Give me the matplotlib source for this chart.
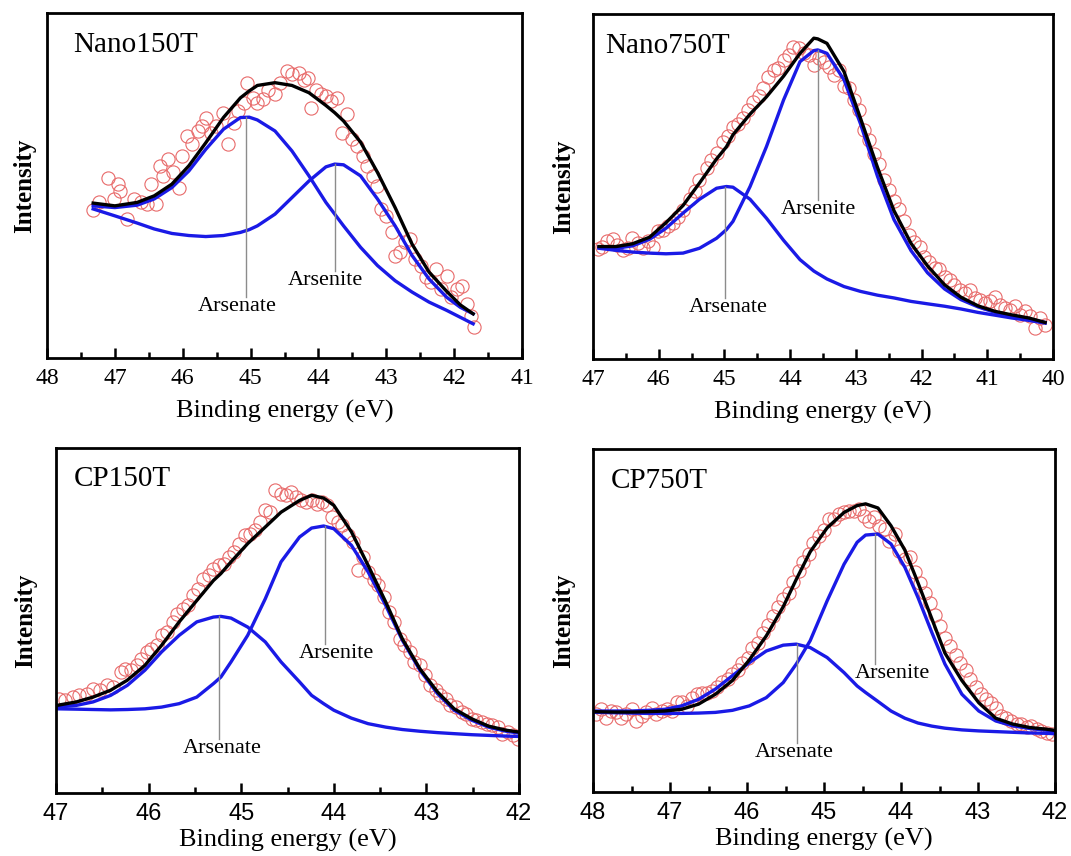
import matplotlib
matplotlib.use("Agg")
import matplotlib.pyplot as plt
from matplotlib.ticker import MultipleLocator

plt.rcParams['font.family'] = ['Liberation Serif', 'DejaVu Serif']

# ---- Nano150T ----
p1_x = [47.32, 47.00, 46.67, 46.42, 46.16, 45.91, 45.66, 45.40, 45.15, 45.02, 44.90, 44.64, 44.39,
        44.14, 43.89, 43.76, 43.63, 43.38, 43.13, 42.87, 42.62, 42.37, 42.11, 41.91, 41.72]
p1_fit = [44.9, 44.1, 45.1, 47.0, 50.4, 55.7, 62.4, 69.7, 75.4, 77.4, 79.0, 79.8, 79.0,
          76.9, 73.2, 71.1, 68.7, 62.6, 53.8, 43.6, 33.0, 24.9, 19.3, 15.4, 12.8]
p1_as5 = [44.1, 43.6, 44.3, 46.1, 49.4, 54.2, 60.5, 66.3, 69.7, 69.8, 69.0, 65.8, 60.0,
          52.8, 45.1, 41.7, 38.3, 32.1, 26.8, 22.4, 19.1, 16.2, 13.8, 11.8, 9.9]
p1_as3 = [43.2, 41.2, 39.1, 37.4, 36.1, 35.5, 35.2, 35.5, 36.4, 37.2, 38.3, 41.7, 46.5,
          51.3, 55.4, 56.2, 56.0, 52.8, 46.1, 38.3, 29.7, 22.9, 17.6, 14.7, 12.8]
p1_dx = [47.32, 47.23, 47.10, 47.02, 46.95, 46.92, 46.82, 46.72, 46.62, 46.52, 46.47, 46.39, 46.34,
         46.29, 46.21, 46.14, 46.06, 46.01, 45.94, 45.86, 45.78, 45.71, 45.66, 45.58, 45.51, 45.40,
         45.33, 45.25, 45.18, 45.10, 45.05, 44.97, 44.90, 44.82, 44.75, 44.64, 44.57, 44.47, 44.39,
         44.29, 44.21, 44.16, 44.11, 44.04, 43.96, 43.89, 43.81, 43.73, 43.66, 43.58, 43.51, 43.43,
         43.35, 43.28, 43.20, 43.13, 43.08, 43.00, 42.92, 42.87, 42.80, 42.72, 42.65, 42.57, 42.49,
         42.42, 42.34, 42.27, 42.19, 42.11, 42.04, 41.96, 41.89, 41.81, 41.75, 41.71]
p1_dy = [43.0, 45.1, 52.3, 46.0, 50.4, 48.5, 40.3, 46.0, 45.1, 44.6, 50.4, 44.6, 55.7,
         52.8, 57.6, 53.8, 49.4, 58.6, 64.4, 61.9, 65.8, 67.2, 69.7, 65.3, 67.2, 71.1,
         61.9, 68.2, 71.6, 74.0, 79.8, 75.4, 74.0, 75.0, 77.8, 76.4, 79.8, 83.1, 82.2,
         82.7, 80.7, 81.2, 72.5, 77.8, 76.4, 75.9, 74.5, 75.4, 65.3, 70.6, 63.4, 61.5,
         58.6, 55.7, 52.8, 49.9, 43.2, 41.2, 36.4, 29.7, 30.6, 33.5, 34.5, 28.7, 26.8,
         23.4, 22.0, 25.8, 20.0, 23.9, 17.6, 20.0, 21.0, 15.7, 12.3, 9.0]

# ---- Nano750T ----
p2_x = [46.91, 46.65, 46.40, 46.14, 45.89, 45.63, 45.38, 45.12, 44.97, 44.87, 44.61, 44.36, 44.10,
        43.85, 43.64, 43.58, 43.44, 43.18, 42.93, 42.67, 42.42, 42.16, 41.91, 41.65, 41.40, 41.14,
        40.88, 40.63, 40.37, 40.12]
p2_fit = [32.6, 32.6, 33.4, 35.3, 39.5, 44.5, 51.0, 58.0, 61.5, 65.0, 71.0, 76.0, 82.0,
          88.6, 93.0, 92.8, 91.5, 83.3, 69.8, 55.5, 43.0, 33.5, 27.0, 21.5, 17.9, 15.4,
          13.8, 12.8, 11.9, 10.6]
p2_as5 = [32.4, 32.1, 32.8, 34.7, 37.9, 42.3, 46.3, 49.5, 50.0, 49.8, 46.3, 40.8, 34.4,
          28.8, 25.5, 24.8, 23.2, 21.0, 19.6, 18.5, 17.7, 16.7, 16.0, 15.3, 14.5, 13.5,
          12.7, 11.9, 11.2, 10.4]
p2_as3 = [32.1, 31.5, 31.0, 30.7, 30.5, 30.7, 32.1, 35.0, 37.5, 39.9, 50.0, 61.6, 75.1,
          86.2, 89.4, 89.6, 88.6, 80.9, 68.2, 52.9, 40.4, 31.4, 25.0, 20.3, 17.2, 15.1,
          13.5, 12.5, 11.6, 10.6]
p2_dx = [46.93, 46.86, 46.78, 46.70, 46.63, 46.55, 46.47, 46.40, 46.32, 46.24, 46.17, 46.09, 46.01,
         45.94, 45.86, 45.79, 45.71, 45.63, 45.53, 45.45, 45.38, 45.27, 45.20, 45.12, 45.02, 44.94,
         44.87, 44.79, 44.71, 44.64, 44.56, 44.48, 44.41, 44.33, 44.25, 44.18, 44.10, 44.02, 43.95,
         43.87, 43.79, 43.72, 43.64, 43.56, 43.49, 43.41, 43.33, 43.26, 43.18, 43.11, 43.03, 42.95,
         42.88, 42.80, 42.72, 42.65, 42.57, 42.49, 42.42, 42.34, 42.26, 42.19, 42.11, 42.03, 41.96,
         41.88, 41.80, 41.73, 41.65, 41.57, 41.50, 41.42, 41.34, 41.27, 41.19, 41.11, 41.04, 40.96,
         40.88, 40.81, 40.73, 40.66, 40.58, 40.50, 40.43, 40.35, 40.27, 40.20, 40.12]
p2_dy = [31.9, 32.6, 34.1, 34.7, 33.1, 31.5, 32.1, 35.0, 33.6, 32.1, 34.1, 32.6, 37.0,
         37.5, 38.6, 39.5, 41.2, 43.2, 46.5, 48.6, 51.8, 55.5, 57.8, 59.8, 63.0, 64.6,
         67.2, 68.0, 70.0, 72.2, 74.5, 76.2, 78.6, 81.8, 83.7, 84.5, 86.8, 88.0, 90.5,
         90.1, 88.6, 88.1, 85.2, 87.2, 86.2, 84.7, 82.3, 83.8, 79.0, 78.5, 75.1, 72.2,
         66.5, 63.5, 59.5, 56.5, 51.8, 49.0, 45.8, 43.5, 40.0, 36.0, 34.0, 32.5, 29.5,
         28.0, 26.5, 26.0, 23.9, 23.0, 21.5, 20.1, 19.1, 20.1, 17.7, 17.2, 16.2, 16.7,
         18.1, 15.7, 14.8, 14.3, 15.3, 12.8, 13.8, 12.4, 9.0, 11.9, 9.9]

# ---- CP150T ----
p3_x = [46.99, 46.78, 46.60, 46.41, 46.23, 46.04, 45.86, 45.67, 45.48, 45.30, 45.22, 45.11, 44.93,
        44.74, 44.57, 44.37, 44.24, 44.11, 44.00, 43.81, 43.63, 43.44, 43.26, 43.07, 42.88, 42.70,
        42.51, 42.33, 42.14, 42.01]
p3_fit = [25.4, 26.4, 27.8, 29.8, 32.7, 37.0, 42.8, 49.6, 55.8, 61.6, 63.6, 67.0, 72.3,
          77.1, 81.4, 84.8, 86.3, 85.5, 83.4, 75.7, 66.0, 55.4, 44.7, 36.0, 29.3, 24.4,
          21.5, 19.4, 18.2, 17.7]
p3_as5 = [24.9, 25.4, 26.4, 28.3, 31.2, 35.6, 40.9, 45.7, 49.6, 51.0, 51.2, 50.7, 48.1,
          43.8, 38.0, 32.2, 28.3, 25.9, 24.0, 21.7, 20.1, 19.1, 18.4, 17.9, 17.5, 17.2,
          16.9, 16.7, 16.5, 16.4]
p3_as3 = [24.4, 24.3, 24.2, 24.1, 24.2, 24.4, 24.9, 25.9, 27.8, 31.7, 33.6, 38.0, 45.7,
          56.3, 67.0, 74.2, 76.8, 77.4, 76.6, 71.8, 64.1, 54.4, 44.3, 35.6, 28.8, 24.0,
          21.1, 19.1, 17.9, 17.4]
p3_dx = [46.97, 46.90, 46.82, 46.75, 46.67, 46.60, 46.52, 46.45, 46.38, 46.30, 46.25, 46.19, 46.13,
         46.08, 46.02, 45.97, 45.91, 45.86, 45.80, 45.74, 45.69, 45.63, 45.58, 45.52, 45.47, 45.41,
         45.35, 45.30, 45.24, 45.19, 45.13, 45.08, 45.02, 44.96, 44.91, 44.85, 44.80, 44.74, 44.69,
         44.63, 44.57, 44.52, 44.46, 44.41, 44.35, 44.30, 44.24, 44.18, 44.13, 44.07, 44.02, 43.96,
         43.91, 43.85, 43.79, 43.74, 43.68, 43.63, 43.57, 43.52, 43.46, 43.40, 43.35, 43.29, 43.24,
         43.18, 43.13, 43.07, 43.01, 42.96, 42.90, 42.85, 42.79, 42.74, 42.68, 42.62, 42.57, 42.51,
         42.46, 42.40, 42.35, 42.29, 42.23, 42.18, 42.12, 42.07, 42.01]
p3_dy = [27.3, 26.9, 27.8, 28.3, 28.8, 30.2, 29.8, 31.2, 30.7, 35.1, 36.0, 35.6, 37.0,
         38.9, 40.9, 41.8, 42.8, 45.7, 46.7, 49.6, 52.0, 53.4, 54.4, 57.3, 59.2, 62.1,
         63.1, 65.0, 66.0, 66.5, 68.4, 69.9, 72.3, 74.7, 75.2, 76.1, 78.6, 81.9, 81.4,
         87.7, 86.8, 86.3, 87.2, 85.8, 84.8, 84.3, 84.8, 83.9, 84.3, 83.4, 80.0, 78.6,
         77.6, 74.7, 72.8, 64.5, 68.4, 64.1, 61.6, 60.2, 56.8, 52.5, 49.6, 44.7, 42.8,
         40.9, 38.0, 37.0, 34.1, 31.2, 29.8, 28.3, 27.3, 25.4, 24.9, 23.5, 23.0, 21.5,
         21.1, 20.6, 20.1, 19.6, 19.1, 17.2, 17.7, 16.7, 15.7]

# ---- CP750T ----
p4_x = [47.96, 47.72, 47.50, 47.29, 47.07, 46.85, 46.63, 46.41, 46.19, 45.97, 45.75, 45.53, 45.36,
        45.18, 44.96, 44.74, 44.57, 44.46, 44.30, 44.13, 43.95, 43.78, 43.60, 43.43, 43.21, 42.99,
        42.77, 42.55, 42.33, 42.11, 42.02]
p4_fit = [23.4, 23.3, 23.3, 23.4, 23.6, 24.1, 25.6, 28.5, 32.5, 38.5, 45.5, 54.0, 62.0,
          70.0, 77.0, 81.5, 83.5, 84.0, 82.8, 77.6, 70.5, 61.0, 50.5, 40.5, 32.5, 26.0,
          21.5, 19.8, 18.8, 18.3, 18.0]
p4_as5 = [23.6, 23.6, 23.6, 23.8, 24.1, 25.1, 27.0, 30.0, 33.9, 37.7, 41.1, 42.8, 43.1,
          42.1, 39.2, 34.8, 30.9, 29.0, 26.4, 23.6, 21.5, 20.1, 19.2, 18.6, 18.1, 17.8,
          17.6, 17.4, 17.2, 17.1, 17.0]
p4_as3 = [23.2, 23.1, 23.0, 22.9, 22.9, 22.9, 23.0, 23.2, 23.8, 25.1, 27.5, 31.9, 37.3,
          44.1, 55.7, 66.4, 72.8, 74.9, 75.2, 72.3, 65.5, 56.7, 46.5, 37.3, 28.5, 23.6,
          20.7, 19.3, 18.5, 18.0, 17.8]
p4_dx = [47.96, 47.90, 47.83, 47.77, 47.70, 47.64, 47.57, 47.50, 47.44, 47.37, 47.31, 47.24, 47.18,
         47.11, 47.04, 46.98, 46.91, 46.85, 46.78, 46.71, 46.65, 46.58, 46.52, 46.45, 46.39, 46.32,
         46.25, 46.19, 46.12, 46.06, 45.99, 45.93, 45.86, 45.79, 45.73, 45.66, 45.60, 45.53, 45.46,
         45.40, 45.33, 45.27, 45.20, 45.14, 45.07, 45.00, 44.94, 44.87, 44.81, 44.74, 44.68, 44.61,
         44.54, 44.48, 44.41, 44.35, 44.28, 44.21, 44.15, 44.08, 44.02, 43.95, 43.89, 43.82, 43.75,
         43.69, 43.62, 43.56, 43.49, 43.43, 43.36, 43.29, 43.23, 43.16, 43.10, 43.03, 42.96, 42.90,
         42.83, 42.77, 42.70, 42.64, 42.57, 42.50, 42.44, 42.37, 42.31, 42.24, 42.18, 42.11, 42.04]
p4_dy = [22.7, 24.1, 21.7, 23.6, 23.2, 21.7, 22.7, 24.1, 20.7, 22.2, 23.2, 24.6, 22.7,
         23.6, 24.1, 23.6, 26.1, 26.1, 25.1, 27.5, 28.5, 28.8, 29.0, 29.5, 30.5, 32.0,
         33.0, 34.5, 35.5, 37.5, 39.0, 42.0, 43.5, 46.3, 48.8, 51.2, 54.0, 56.2, 58.0,
         61.2, 64.3, 67.0, 69.5, 72.5, 74.5, 76.5, 79.6, 79.6, 81.0, 81.5, 82.0, 82.0,
         82.5, 80.5, 79.1, 80.1, 77.6, 76.7, 73.2, 75.2, 70.3, 67.9, 68.4, 64.0, 61.0,
         58.0, 55.0, 51.5, 48.5, 45.0, 42.5, 40.0, 37.5, 35.5, 33.0, 30.5, 28.5, 27.0,
         25.8, 24.6, 22.2, 21.7, 20.7, 19.7, 19.7, 18.8, 19.3, 18.3, 17.8, 17.3, 16.8]

# annotation: peak line x, line top, line bottom, label x, label
p1_ann = [(45.07, 69.9, 17.6, 45.20, 'Arsenate'), (43.76, 56.2, 25.3, 43.89, 'Arsenite')]
p2_ann = [(44.99, 50.0, 17.7, 44.95, 'Arsenate'), (43.58, 89.6, 46.1, 43.57, 'Arsenite')]
p3_ann = [(45.24, 51.2, 15.7, 45.21, 'Arsenate'), (44.10, 77.4, 43.3, 43.97, 'Arsenite')]
p4_ann = [(45.35, 43.1, 14.4, 45.39, 'Arsenate'), (44.34, 75.2, 37.3, 44.11, 'Arsenite')]


def draw_panel(ax, name, x, fit, as5, as3, dx, dy, ann, xlim, name_pos, ylab_x,
               tick_family, xlab_pad):
    ax.plot(dx, dy, 'o', mfc='none', mec='#e86a6a', ms=9.5, mew=0.8, zorder=1)
    ax.plot(x, as5, color='#1a1ae6', lw=2.4, zorder=2)
    ax.plot(x, as3, color='#1a1ae6', lw=2.4, zorder=2)
    ax.plot(x, fit, color='black', lw=2.4, zorder=3)
    for lx, ytop, ybot, tx, label in ann:
        ax.plot([lx, lx], [ytop, ybot], color='#8c8c8c', lw=1.0, zorder=4)
        ax.text(tx, ybot, label, ha='center', va='top', fontsize=16, zorder=5)
    ax.text(name_pos[0], name_pos[1], name, transform=ax.transAxes,
            ha='left', va='center', fontsize=21)
    ax.text(ylab_x, 0.5, 'Intensity', transform=ax.transAxes, rotation=90,
            ha='center', va='center', fontsize=18, fontweight='bold')
    ax.set_xlim(*xlim)
    ax.set_ylim(0, 100)
    ax.xaxis.set_major_locator(MultipleLocator(1))
    ax.xaxis.set_minor_locator(MultipleLocator(0.5))
    ax.xaxis.set_major_formatter(lambda v, p: '%d' % round(v))
    ax.tick_params(axis='x', which='major', direction='in', length=7, width=1.8, pad=7)
    ax.tick_params(axis='x', which='minor', direction='in', length=4, width=1.8)
    ax.tick_params(axis='y', left=False, labelleft=False)
    for lab in ax.get_xticklabels():
        lab.set_fontfamily(tick_family)
        lab.set_fontsize(17)
    ax.set_xlabel('Binding energy (eV)', fontsize=19, labelpad=xlab_pad)
    for sp in ax.spines.values():
        sp.set_linewidth(2.0)


fig = plt.figure(figsize=(10.71, 8.56), dpi=100)
ax1 = fig.add_axes([0.0439, 0.5818, 0.4435, 0.4030])
ax2 = fig.add_axes([0.5537, 0.5806, 0.4295, 0.4030])
ax3 = fig.add_axes([0.0523, 0.0736, 0.4323, 0.4030])
ax4 = fig.add_axes([0.5537, 0.0748, 0.4314, 0.4007])

draw_panel(ax1, 'Nano150T', p1_x, p1_fit, p1_as5, p1_as3, p1_dx, p1_dy, p1_ann,
           (48, 41), (0.056, 0.906), -0.048, 'Liberation Serif', 8)
draw_panel(ax2, 'Nano750T', p2_x, p2_fit, p2_as5, p2_as3, p2_dx, p2_dy, p2_ann,
           (47, 40), (0.026, 0.906), -0.063, 'Liberation Serif', 8)
draw_panel(ax3, 'CP150T', p3_x, p3_fit, p3_as5, p3_as3, p3_dx, p3_dy, p3_ann,
           (47, 42), (0.039, 0.911), -0.065, 'Liberation Sans', 3)
draw_panel(ax4, 'CP750T', p4_x, p4_fit, p4_as5, p4_as3, p4_dx, p4_dy, p4_ann,
           (48, 42), (0.039, 0.908), -0.063, 'Liberation Sans', 3)

fig.savefig('out.png', dpi=100)
